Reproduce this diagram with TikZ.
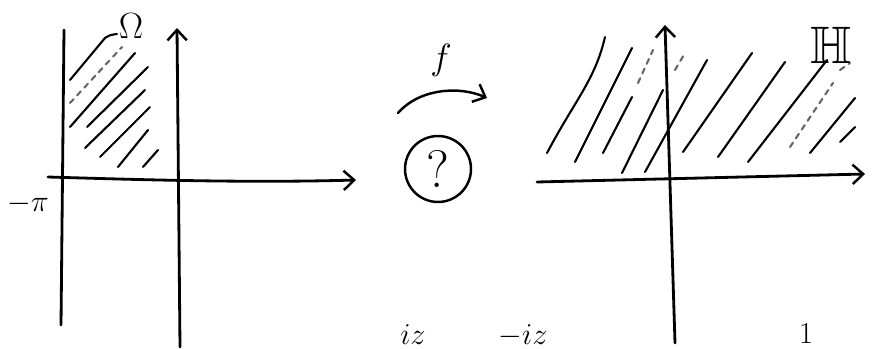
\documentclass[tikz,border=0pt]{standalone}
\usepackage{amssymb}
\usetikzlibrary{arrows.meta}

\begin{document}
\begin{tikzpicture}[x=0.02cm, y=-0.02cm,
  axis/.style={line width=1.6pt, line cap=round},
  hatch/.style={line width=1.2pt, line cap=round},
  faint/.style={hatch, dashed, black!60},
  tip/.style={-{Straight Barb[length=6pt,width=11pt,line width=1.4pt]}}]

\useasboundingbox (0,0) rectangle (874,348);
\clip (0,0) rectangle (874,348);

% Left strip
\draw[axis] (64,30) -- (61,325);
\draw[axis, tip] (180,347) -- (177,28);
\draw[axis, tip] (48,177) .. controls (150,180) and (250,183) .. (356,180);

\draw[hatch] (70,80) -- (105,38) .. controls (110,35) .. (117,34);
\draw[faint] (70,103) -- (122,47);
\draw[hatch] (70,127) -- (135,53);
\draw[hatch] (87,127) -- (148,67);
\draw[hatch] (85,148) -- (145,90);
\draw[hatch] (100,157) -- (150,107);
\draw[hatch] (118,167) -- (148,130);
\draw[hatch] (143,167) -- (158,150);

\node[font=\huge] (omega) at (131,26) {$\Omega$};
\node[font=\LARGE] (minuspi) at (28,204) {$-\pi$};

% Map
\node[font=\huge] (f) at (441,60) {$f$};
\coordinate (fstart) at (398,113);
\coordinate (fend) at (487,98);
\draw[line width=1.4pt, line cap=round, tip] (fstart) .. controls (420,88) and (460,86) .. (fend);
\node[draw, circle, line width=1.4pt, minimum size=1.32cm, inner sep=0pt,
  font=\fontsize{30}{36}\selectfont] (what) at (438,169) {?};

% Right half-plane
\draw[axis, tip] (537,182) -- (865,174);
\draw[axis, tip] (675,343) -- (665,25);

\draw[hatch] (547,153) .. controls (575,100) and (595,80) .. (605,37);
\draw[hatch] (575,162) -- (632,48);
\draw[hatch] (603,153) -- (632,97);
\draw[faint] (638,83) -- (653,50);
\draw[hatch] (622,173) -- (663,90);
\draw[hatch] (645,172) -- (707,60);
\draw[faint] (675,70) -- (685,53);
\draw[hatch] (683,152) -- (752,53);
\draw[hatch] (718,157) -- (785,62);
\draw[hatch] (748,162) -- (827,60);
\draw[faint] (790,147) -- (833,83);
\draw[faint] (840,70) -- (850,63);
\draw[hatch] (810,153) -- (855,98);
\draw[hatch] (840,142) -- (855,127);

\node[font=\fontsize{30}{36}\selectfont] (half) at (831,45) {$\mathbb{H}$};

% Line below
\node[font=\fontsize{18}{22}\selectfont, anchor=base] (eiz) at (413,344) {$iz$};
\node[font=\fontsize{18}{22}\selectfont, anchor=base] (emiz) at (523,344) {$-iz$};
\node[font=\fontsize{18}{22}\selectfont, anchor=base] (one) at (806,343) {$1$};
\end{tikzpicture}
\end{document}
